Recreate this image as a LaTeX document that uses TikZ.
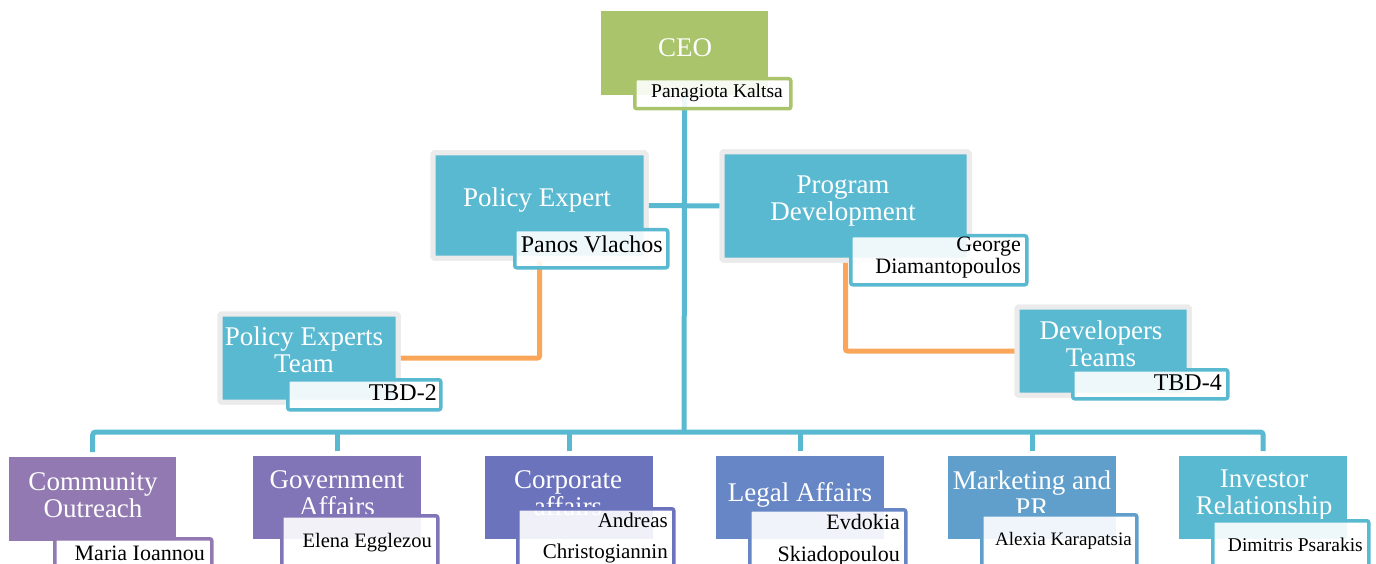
\documentclass[tikz,border=0pt]{standalone}
\usepackage{fontspec}
\setmainfont{Liberation Serif}
\definecolor{cgreen}{HTML}{A9C46B}
\definecolor{cblue}{HTML}{59B9D1}
\definecolor{corange}{HTML}{F9A65A}
\definecolor{cframe}{HTML}{EBEBEB}
\definecolor{cp1}{HTML}{9279B2}
\definecolor{cp2}{HTML}{8174B7}
\definecolor{cp3}{HTML}{6B73BD}
\definecolor{cp4}{HTML}{6686C5}
\definecolor{cp5}{HTML}{609FCC}
\definecolor{cp6}{HTML}{59B9D1}
\tikzset{
  plainbox/.style={fill=#1, draw=none, anchor=north west, inner sep=0pt},
  framedbox/.style={fill=cblue, draw=cframe, line width=5pt, rounded corners=1.5pt, anchor=north west, inner sep=0pt},
  namebox/.style={fill=white, fill opacity=0.9, draw=#1, draw opacity=1, line width=3.5pt, rounded corners=2pt, anchor=north west, inner sep=0pt},
  ttl/.style={text=white, align=center, inner sep=0pt, font=\fontsize{27}{27}\selectfont},
  nm/.style={text=black, align=right, anchor=east, inner sep=0pt},
  conn/.style={draw=cblue, line width=5pt},
  oconn/.style={draw=corange, line width=5pt, rounded corners=2pt},
}
\begin{document}
\begin{tikzpicture}[x=1pt,y=-1pt]
\useasboundingbox (0,0) rectangle (1376,564);
\clip (0,0) rectangle (1376,564);
% connectors first (end points defined by named nodes below, drawn on top)
\node[plainbox=cgreen, minimum width=167pt, minimum height=84pt] (ceo) at (601,11) {};
\node[framedbox, minimum width=213pt, minimum height=105pt] (pe) at (430.5,150.5) {};
\node[framedbox, minimum width=247pt, minimum height=108pt] (pd) at (719.5,149.5) {};
\node[framedbox, minimum width=178pt, minimum height=88pt] (pet) at (217.5,311.5) {};
\node[framedbox, minimum width=172pt, minimum height=88pt] (dt) at (1014.5,304.5) {};
\node[plainbox=cp1, minimum width=167pt, minimum height=84pt] (b1) at (9,457) {};
\node[plainbox=cp2, minimum width=168pt, minimum height=83pt] (b2) at (253,456) {};
\node[plainbox=cp3, minimum width=168pt, minimum height=83pt] (b3) at (485,456) {};
\node[plainbox=cp4, minimum width=168pt, minimum height=83pt] (b4) at (716,456) {};
\node[plainbox=cp5, minimum width=168pt, minimum height=83pt] (b5) at (948,456) {};
\node[plainbox=cp6, minimum width=168pt, minimum height=83pt] (b6) at (1179,456) {};
\coordinate (bus) at (684,432);
\draw[conn] (ceo.south) -- (bus);
\draw[conn] (pe.east) -- (pd.west);
\draw[oconn] (pe.south) |- (pet.east);
\draw[oconn] (pd.south) |- (dt.west);
\draw[conn, rounded corners=3pt] ([yshift=5pt]b1.north) |- (bus) -| ([yshift=5pt]b6.north);
\draw[conn] ([yshift=5pt]b2.north) -- (b2.north |- bus);
\draw[conn] ([yshift=5pt]b3.north) -- (b3.north |- bus);
\draw[conn] ([yshift=5pt]b4.north) -- (b4.north |- bus);
\draw[conn] ([yshift=5pt]b5.north) -- (b5.north |- bus);
% boxes again above the connectors
\node[plainbox=cgreen, minimum width=167pt, minimum height=84pt] (ceo2) at (601,11) {};
\node[framedbox, minimum width=213pt, minimum height=105pt] (pe2) at (430.5,150.5) {};
\node[framedbox, minimum width=247pt, minimum height=108pt] (pd2) at (719.5,149.5) {};
\node[framedbox, minimum width=178pt, minimum height=88pt] (pet2) at (217.5,311.5) {};
\node[framedbox, minimum width=172pt, minimum height=88pt] (dt2) at (1014.5,304.5) {};
% titles
\node[ttl] (tceo) at (685,48) {CEO};
\node[ttl] (tpe) at (537,200) {Policy Expert};
\node[ttl] (tpd) at (843,201) {Program\\Development};
\node[ttl] (tpet) at (304,350) {Policy Experts\\Team};
\node[ttl] (tdt) at (1101,344) {Developers\\Teams};
\node[ttl] (tb1) at (93,495) {Community\\Outreach};
\node[ttl] (tb2) at (337,493) {Government\\Affairs};
\node[ttl] (tb3) at (568,493) {Corporate\\affairs};
\node[ttl] (tb4) at (800,495) {Legal Affairs};
\node[ttl] (tb5) at (1032,494) {Marketing and\\PR};
\node[ttl] (tb6) at (1264,495) {Investor\\Relationship};
% name boxes
\node[namebox=cgreen, minimum width=156pt, minimum height=30pt] (nceo) at (633,77) {};
\node[namebox=cblue, minimum width=153pt, minimum height=38pt] (npe) at (513,228) {};
\node[namebox=cblue, minimum width=176pt, minimum height=49pt] (npd) at (849,234) {};
\node[namebox=cblue, minimum width=153pt, minimum height=30pt] (npet) at (286,378) {};
\node[namebox=cblue, minimum width=155pt, minimum height=29pt] (ndt) at (1071,368) {};
\node[namebox=cp1, minimum width=157pt, minimum height=60pt] (nb1) at (53,537) {};
\node[namebox=cp2, minimum width=156pt, minimum height=60pt] (nb2) at (280,514) {};
\node[namebox=cp3, minimum width=156pt, minimum height=60pt] (nb3) at (516,507) {};
\node[namebox=cp4, minimum width=156pt, minimum height=60pt] (nb4) at (748,508) {};
\node[namebox=cp5, minimum width=155pt, minimum height=60pt] (nb5) at (980,513) {};
\node[namebox=cp6, minimum width=156pt, minimum height=60pt] (nb6) at (1211,519) {};
% names
\node[nm, font=\fontsize{19.5}{19.5}\selectfont] at (783,93) {Panagiota Kaltsa};
\node[nm, font=\fontsize{24}{24}\selectfont] at (663,244) {Panos Vlachos};
\node[nm, font=\fontsize{22}{22}\selectfont] at (1021,258) {George\\Diamantopoulos};
\node[nm, font=\fontsize{24}{24}\selectfont] at (437,393) {TBD-2};
\node[nm, font=\fontsize{24}{24}\selectfont] at (1222,383) {TBD-4};
\node[nm, font=\fontsize{22}{22}\selectfont] at (205,553) {Maria Ioannou};
\node[nm, font=\fontsize{20.5}{20.5}\selectfont] at (432,543) {Elena Egglezou};
\node[nm, font=\fontsize{21}{31}\selectfont] at (668,538) {Andreas\\Christogiannin};
\node[nm, font=\fontsize{22}{32}\selectfont] at (900,540) {Evdokia\\Skiadopoulou};
\node[nm, font=\fontsize{19}{19}\selectfont] at (1132,541) {Alexia Karapatsia};
\node[nm, font=\fontsize{19.5}{19.5}\selectfont] at (1363,545) {Dimitris Psarakis};
\end{tikzpicture}
\end{document}
